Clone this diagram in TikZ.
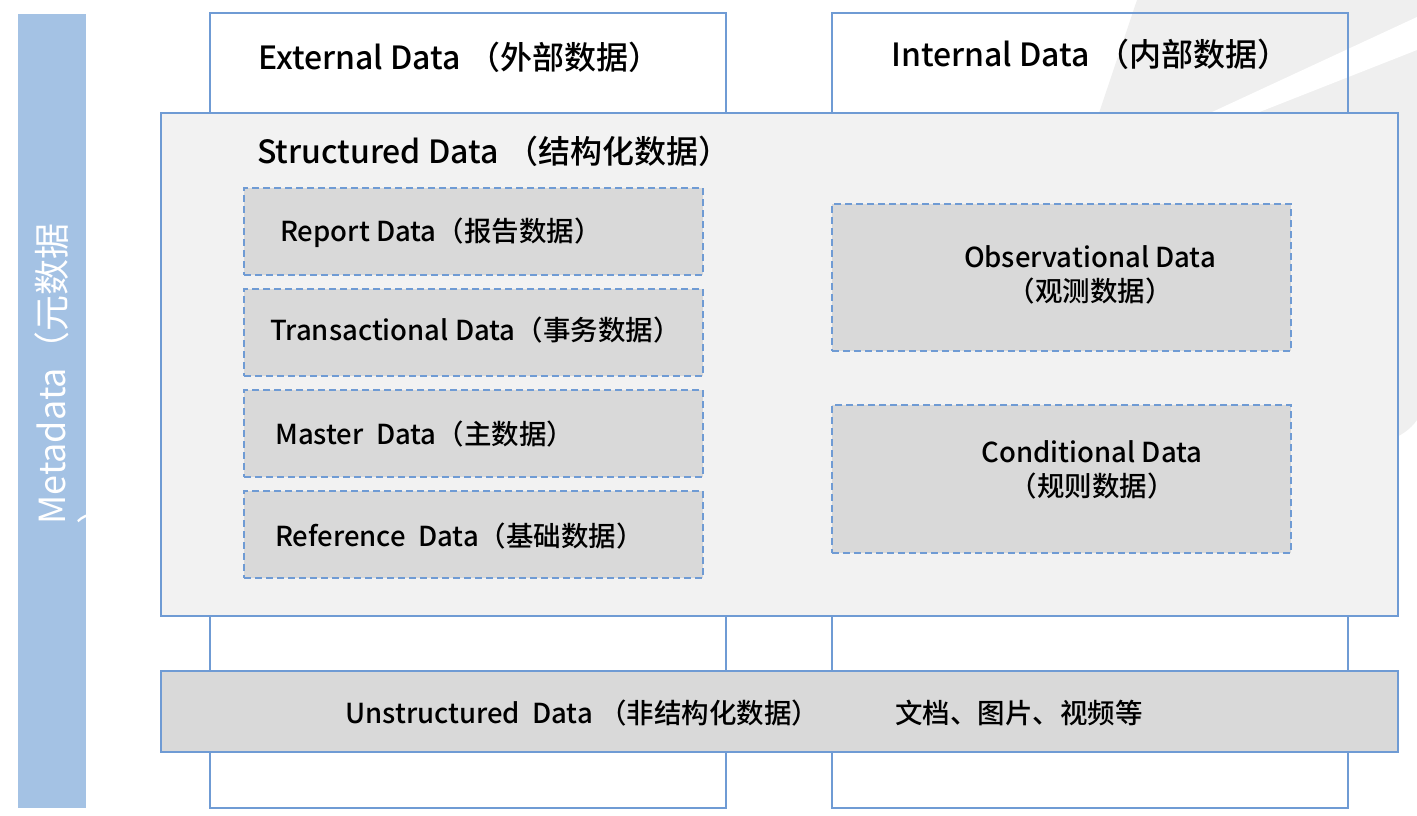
\documentclass[tikz,border=0pt]{standalone}
\usepackage{fontspec}
\setmainfont{Noto Sans CJK SC}
\newfontfamily\medf{Noto Sans CJK SC}[UprightFont=* Medium]
\definecolor{bord}{HTML}{6F9BD4}
\definecolor{meta}{HTML}{A4C2E4}
\definecolor{lgray}{HTML}{F2F2F2}
\definecolor{mgray}{HTML}{D9D9D9}
\definecolor{bgray}{HTML}{EFEFEF}
\begin{document}
\begin{tikzpicture}[x=1pt,y=-1pt,
  frame/.style={draw=bord,line width=1.8pt,inner sep=0pt},
  dbox/.style={draw=bord,fill=mgray,line width=1.6pt,dash pattern=on 7pt off 4pt,inner sep=0pt,minimum width=459pt},
  head/.style={anchor=west,inner sep=0pt,font=\medf\fontsize{32}{38}\selectfont},
  headc/.style={anchor=west,inner sep=0pt,font=\medf\fontsize{32}{38}\selectfont},
  lab/.style={anchor=west,inner sep=0pt,font=\medf\fontsize{27.5}{34}\selectfont},
  labc/.style={anchor=west,inner sep=0pt,font=\medf\fontsize{27.5}{34}\selectfont},
  clab/.style={align=center,inner sep=0pt,font=\medf\fontsize{27.5}{34}\selectfont}]
\useasboundingbox (0,0) rectangle (1417,816);
\fill[white] (0,0) rectangle (1417,816);
% background decoration
\fill[bgray] (1137,0) -- (1417,0) -- (1417,420) .. controls (1410,430) and (1400,436) .. (1390,440) -- (1099,440) -- (1099,113) -- cycle;
\fill[white] (1417,17) -- (1417,50) -- (1257,113) -- (1210,113) -- cycle;
% metadata bar
\node[fill=meta,inner sep=0pt,minimum width=68pt,minimum height=794pt] (meta) at (52,411) {};
\node[rotate=90,anchor=west,inner sep=0pt,text=white,font=\fontsize{36}{42}\selectfont] (metat) at (52,525) {Metadata（元数据};
\node[rotate=90,anchor=west,inner sep=0pt,text=white,font=\fontsize{36}{42}\selectfont] (metap) at (95,525) {）};
% external / internal
\node[frame,minimum width=516pt,minimum height=795pt] (ext) at (468,410.5) {};
\node[frame,minimum width=516pt,minimum height=795pt] (int) at (1090,410.5) {};
% structured
\node[frame,fill=lgray,minimum width=1237pt,minimum height=503pt] (str) at (779.5,364.5) {};
% dashed boxes
\node[dbox,minimum height=87pt] (rep) at (473.5,231.5) {};
\node[dbox,minimum height=87pt] (tra) at (473.5,332.5) {};
\node[dbox,minimum height=87pt] (mas) at (473.5,433.5) {};
\node[dbox,minimum height=87pt] (ref) at (473.5,534.5) {};
\node[dbox,minimum height=147pt] (obs) at (1061.5,277.5) {};
\node[dbox,minimum height=148pt] (con) at (1061.5,479) {};
% unstructured
\node[frame,fill=mgray,minimum width=1237pt,minimum height=81pt] (uns) at (779.5,711.5) {};
% texts
\node[head] (extt) at (258,57) {External Data （外部数据）};
\node[headc] (intt) at (891,54) {Internal Data （内部数据）};
\node[head] (strt) at (257,151) {Structured Data （结构化数据）};
\node[lab] (rept) at (280,233) {Report Data（报告数据）};
\node[lab] (trat) at (270,330) {Transactional Data（事务数据）};
\node[lab] (mast) at (275,434) {Master\ \ Data（主数据）};
\node[lab] (reft) at (275,536) {Reference\ \ Data（基础数据）};
\node[clab] (obst) at (1090,275) {Observational Data\\（观测数据）};
\node[clab] (cont) at (1092,470) {Conditional Data\\（规则数据）};
\node[labc] (unst) at (345,713) {Unstructured\ \ Data （非结构化数据）};
\node[labc] (unse) at (895,713) {文档、图片、视频等};
\end{tikzpicture}
\end{document}
